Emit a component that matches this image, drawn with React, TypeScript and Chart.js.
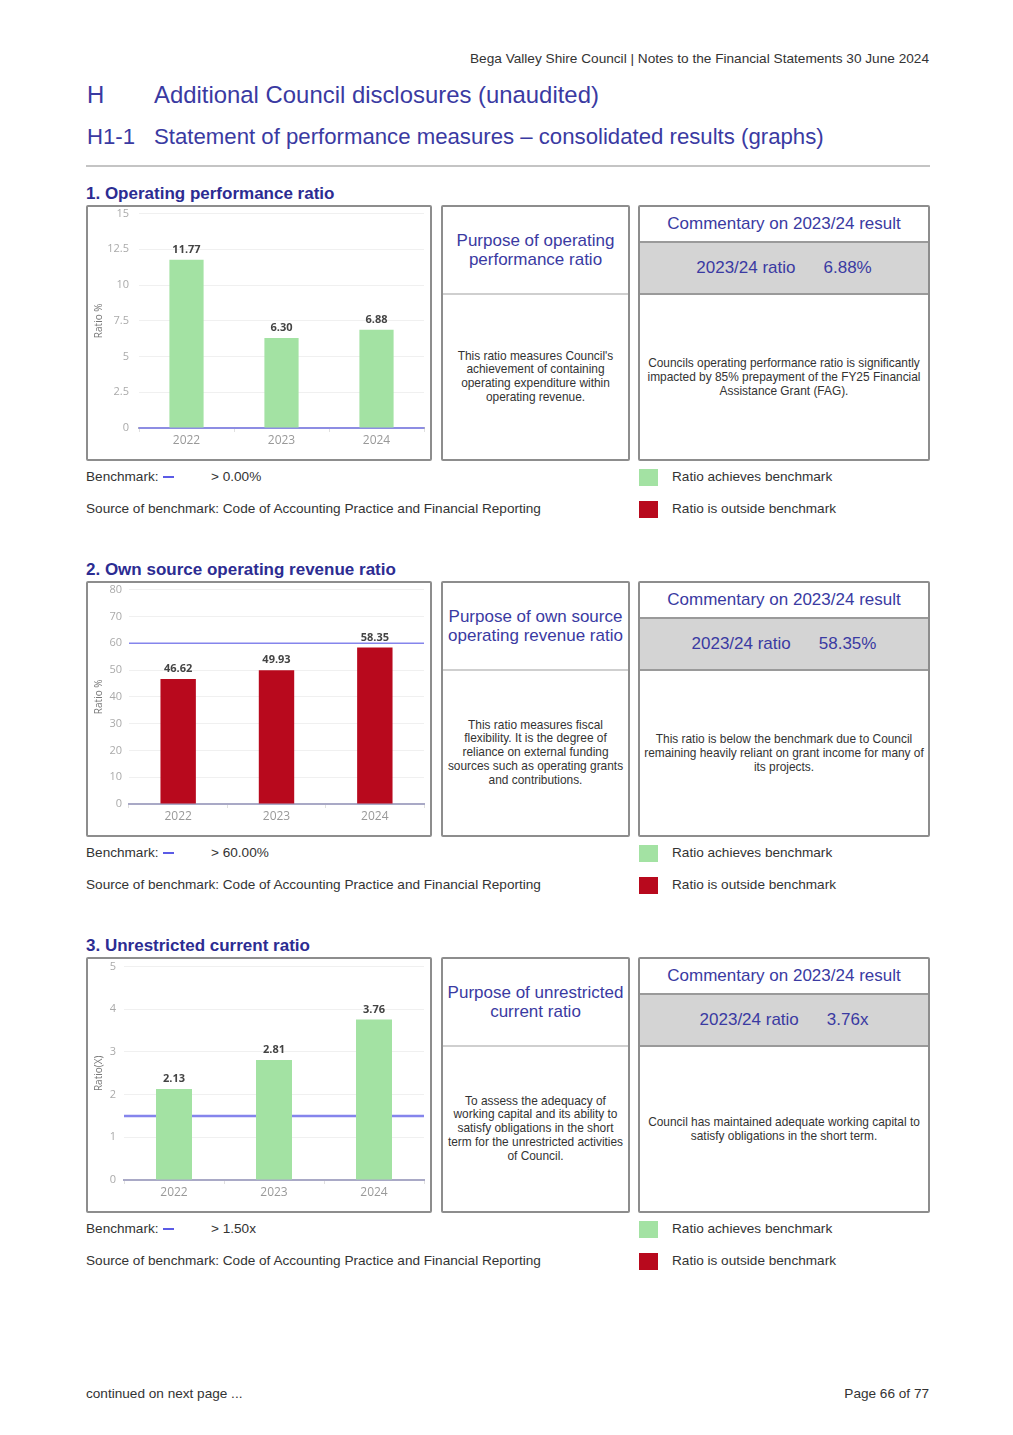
import React, { useEffect, useRef } from 'react';
import { Chart, registerables } from 'chart.js';

Chart.register(...registerables);

// ---------- data ----------
const years = ['2022', '2023', '2024'];

const operatingValues = [11.77, 6.3, 6.88];
const operatingBenchmark = 0;
const operatingTickMax = 15;
const operatingTickStep = 2.5;

const ownSourceValues = [46.62, 49.93, 58.35];
const ownSourceBenchmark = 60;
const ownSourceTickMax = 80;
const ownSourceTickStep = 10;

const unrestrictedValues = [2.13, 2.81, 3.76];
const unrestrictedBenchmark = 1.5;
const unrestrictedTickMax = 5;
const unrestrictedTickStep = 1;

// ---------- styles ----------
const GREEN = '#a3e2a3';
const RED = '#b8091d';
const BLUE_TEXT = '#3a3aa2';
const TITLE_BLUE = '#2c2c92';
const BENCH_LINE = '#8585ec';
const PAGE_FONT = '"Liberation Sans", Arial, sans-serif';
const CHART_FONT = '"Open Sans", "DejaVu Sans", sans-serif';

const overlayPlugin = {
  id: 'overlay',
  beforeDatasetsDraw(chart: any, _args: any, opts: any) {
    const { ctx, chartArea, scales } = chart;
    const yb = scales.y.getPixelForValue(opts.benchmark);
    ctx.save();
    ctx.strokeStyle = opts.lineColor;
    ctx.lineWidth = opts.lineWidth;
    ctx.beginPath();
    ctx.moveTo(chartArea.left, yb);
    ctx.lineTo(chartArea.right, yb);
    ctx.stroke();
    ctx.restore();
  },
  afterDatasetsDraw(chart: any) {
    const { ctx } = chart;
    const meta = chart.getDatasetMeta(0);
    const data = chart.data.datasets[0].data;
    ctx.save();
    ctx.fillStyle = '#444';
    ctx.font = `bold 11px ${CHART_FONT}`;
    ctx.textAlign = 'center';
    ctx.textBaseline = 'middle';
    meta.data.forEach((bar: any, i: number) => {
      ctx.fillText(Number(data[i]).toFixed(2), bar.x, bar.y - 10);
    });
    ctx.restore();
  },
};

type ChartProps = {
  values: number[];
  benchmark: number;
  yMax: number;
  yStep: number;
  yTitle: string;
  axisWidth: number;
  tickPad: number;
  lineWidth: number;
  lift: number;
};

function RatioChart({ values, benchmark, yMax, yStep, yTitle, axisWidth, tickPad, lineWidth, lift }: ChartProps) {
  const ref = useRef<HTMLCanvasElement>(null);
  useEffect(() => {
    const colors = values.map((v) => (v >= benchmark ? GREEN : RED));
    const chart = new Chart(ref.current as HTMLCanvasElement, {
      type: 'bar',
      data: {
        labels: years,
        datasets: [
          {
            data: values,
            backgroundColor: colors,
            borderWidth: 0,
            barPercentage: 0.36,
            categoryPercentage: 1,
          },
        ],
      },
      options: {
        responsive: false,
        animation: false,
        devicePixelRatio: 1,
        layout: { padding: { top: 0, right: 6, bottom: 6, left: 0 } },
        plugins: {
          legend: { display: false },
          tooltip: { enabled: false },
          overlay: { benchmark, lineWidth, lineColor: BENCH_LINE },
        } as any,
        scales: {
          x: {
            grid: { drawOnChartArea: false, drawTicks: true, tickLength: 4, color: '#e0e0e0' },
            border: { color: '#a9a9c6', width: 2 },
            ticks: { color: '#999', font: { family: CHART_FONT, size: 12 }, padding: 1 },
            afterFit: (s: any) => {
              s.height = 25;
            },
          },
          y: {
            min: 0,
            max: yMax,
            ticks: { stepSize: yStep, color: '#aaa', font: { family: CHART_FONT, size: 11 }, padding: tickPad },
            grid: { color: '#f0f0f0', drawTicks: false },
            border: { display: false },
            title: {
              display: true,
              text: yTitle,
              color: '#777',
              font: { family: CHART_FONT, size: 10 },
              padding: { top: 5, bottom: 0 },
            },
            afterFit: (s: any) => {
              s.width = axisWidth;
            },
          },
        },
      } as any,
      plugins: [overlayPlugin],
    });
    return () => chart.destroy();
  }, []);
  return (
    <div style={{ position: 'relative', width: 342, height: 252, overflow: 'hidden' }}>
      <canvas
        ref={ref}
        width={342}
        height={252 + lift}
        style={{ display: 'block', position: 'absolute', left: 0, top: -lift }}
      />
    </div>
  );
}

const boxStyle: React.CSSProperties = {
  position: 'absolute',
  boxSizing: 'border-box',
  border: '2px solid #8d8d8d',
  borderRadius: 2,
  background: '#fff',
};

function Lines({ lines }: { lines: string[] }) {
  return (
    <>
      {lines.map((l, i) => (
        <div key={i}>{l}</div>
      ))}
    </>
  );
}

type SectionProps = {
  top: number;
  title: string;
  chart: React.ReactNode;
  purposeTitle: string[];
  purposeBody: string[];
  ratioLabel: string;
  ratioValue: string;
  commentBody: string[];
  benchmarkText: string;
};

function Section({ top, title, chart, purposeTitle, purposeBody, ratioLabel, ratioValue, commentBody, benchmarkText }: SectionProps) {
  const o = top - 194;
  const small: React.CSSProperties = { position: 'absolute', fontSize: 13.6, color: '#333', lineHeight: '16px', whiteSpace: 'nowrap' };
  return (
    <>
      <div
        style={{
          position: 'absolute',
          left: 86,
          top: o + 184,
          fontSize: 17,
          fontWeight: 'bold',
          color: TITLE_BLUE,
          lineHeight: '20px',
          whiteSpace: 'nowrap',
        }}
      >
        {title}
      </div>
      <div style={{ ...boxStyle, left: 86, top: o + 205, width: 346, height: 256 }}>{chart}</div>
      <div style={{ ...boxStyle, left: 441, top: o + 205, width: 189, height: 256 }}>
        <div
          style={{
            height: 86,
            borderBottom: '2px solid #cfcfcf',
            display: 'flex',
            flexDirection: 'column',
            justifyContent: 'center',
            alignItems: 'center',
            textAlign: 'center',
            fontSize: 17,
            lineHeight: '19px',
            color: BLUE_TEXT,
            whiteSpace: 'nowrap',
          }}
        >
          <Lines lines={purposeTitle} />
        </div>
        <div
          style={{
            height: 164,
            display: 'flex',
            flexDirection: 'column',
            justifyContent: 'center',
            alignItems: 'center',
            textAlign: 'center',
            fontSize: 11.9,
            lineHeight: '13.7px',
            color: '#333',
            whiteSpace: 'nowrap',
          }}
        >
          <Lines lines={purposeBody} />
        </div>
      </div>
      <div style={{ ...boxStyle, left: 638, top: o + 205, width: 292, height: 256 }}>
        <div
          style={{
            height: 34,
            borderBottom: '2px solid #9a9a9a',
            display: 'flex',
            justifyContent: 'center',
            alignItems: 'center',
            fontSize: 17,
            color: BLUE_TEXT,
            whiteSpace: 'nowrap',
          }}
        >
          Commentary on 2023/24 result
        </div>
        <div
          style={{
            height: 50,
            background: '#d4d4d4',
            borderBottom: '2px solid #9a9a9a',
            display: 'flex',
            justifyContent: 'center',
            alignItems: 'center',
            fontSize: 17,
            color: BLUE_TEXT,
            whiteSpace: 'nowrap',
          }}
        >
          <span>{ratioLabel}</span>
          <span style={{ marginLeft: 28 }}>{ratioValue}</span>
        </div>
        <div
          style={{
            height: 166,
            display: 'flex',
            flexDirection: 'column',
            justifyContent: 'center',
            alignItems: 'center',
            textAlign: 'center',
            fontSize: 11.9,
            lineHeight: '13.7px',
            color: '#333',
            whiteSpace: 'nowrap',
          }}
        >
          <Lines lines={commentBody} />
        </div>
      </div>
      {/* benchmark row */}
      <div style={{ ...small, left: 86, top: o + 469 }}>Benchmark:</div>
      <div style={{ position: 'absolute', left: 163, top: o + 476, width: 11, height: 2, background: '#5b5be6' }} />
      <div style={{ ...small, left: 211, top: o + 469 }}>{benchmarkText}</div>
      <div style={{ position: 'absolute', left: 639, top: o + 469, width: 19, height: 17, background: GREEN }} />
      <div style={{ ...small, left: 672, top: o + 469 }}>Ratio achieves benchmark</div>
      <div style={{ ...small, left: 86, top: o + 501 }}>Source of benchmark: Code of Accounting Practice and Financial Reporting</div>
      <div style={{ position: 'absolute', left: 639, top: o + 501, width: 19, height: 17, background: RED }} />
      <div style={{ ...small, left: 672, top: o + 501 }}>Ratio is outside benchmark</div>
    </>
  );
}

export default function App() {
  return (
    <div
      style={{
        position: 'absolute',
        left: 0,
        top: 0,
        width: 1013,
        height: 1435,
        background: '#fff',
        fontFamily: PAGE_FONT,
        overflow: 'hidden',
      }}
    >
      <div
        style={{
          position: 'absolute',
          right: 1013 - 929,
          top: 51,
          fontSize: 13.65,
          lineHeight: '16px',
          color: '#333',
          whiteSpace: 'nowrap',
        }}
      >
        Bega Valley Shire Council | Notes to the Financial Statements 30 June 2024
      </div>
      <div style={{ position: 'absolute', left: 87, top: 81, fontSize: 23.9, lineHeight: '28px', color: BLUE_TEXT }}>H</div>
      <div style={{ position: 'absolute', left: 154, top: 81, fontSize: 23.9, lineHeight: '28px', color: BLUE_TEXT, whiteSpace: 'nowrap' }}>
        Additional Council disclosures (unaudited)
      </div>
      <div style={{ position: 'absolute', left: 87, top: 123, fontSize: 22.2, lineHeight: '28px', color: BLUE_TEXT }}>H1-1</div>
      <div style={{ position: 'absolute', left: 154, top: 123, fontSize: 22.2, lineHeight: '28px', color: BLUE_TEXT, whiteSpace: 'nowrap' }}>
        Statement of performance measures – consolidated results (graphs)
      </div>
      <div style={{ position: 'absolute', left: 86, top: 165, width: 844, height: 2, background: '#c4c4c4' }} />

      <Section
        top={194}
        title="1. Operating performance ratio"
        chart={
          <RatioChart
            values={operatingValues}
            benchmark={operatingBenchmark}
            yMax={operatingTickMax}
            yStep={operatingTickStep}
            yTitle="Ratio %"
            axisWidth={51}
            tickPad={10}
            lineWidth={1.5}
            lift={10}
          />
        }
        purposeTitle={['Purpose of operating', 'performance ratio']}
        purposeBody={["This ratio measures Council's", 'achievement of containing', 'operating expenditure within', 'operating revenue.']}
        ratioLabel="2023/24 ratio"
        ratioValue="6.88%"
        commentBody={[
          'Councils operating performance ratio is significantly',
          'impacted by 85% prepayment of the FY25 Financial',
          'Assistance Grant (FAG).',
        ]}
        benchmarkText="> 0.00%"
      />
      <Section
        top={570}
        title="2. Own source operating revenue ratio"
        chart={
          <RatioChart
            values={ownSourceValues}
            benchmark={ownSourceBenchmark}
            yMax={ownSourceTickMax}
            yStep={ownSourceTickStep}
            yTitle="Ratio %"
            axisWidth={41}
            tickPad={7}
            lineWidth={1.5}
            lift={7}
          />
        }
        purposeTitle={['Purpose of own source', 'operating revenue ratio']}
        purposeBody={[
          'This ratio measures fiscal',
          'flexibility. It is the degree of',
          'reliance on external funding',
          'sources such as operating grants',
          'and contributions.',
        ]}
        ratioLabel="2023/24 ratio"
        ratioValue="58.35%"
        commentBody={[
          'This ratio is below the benchmark due to Council',
          'remaining heavily reliant on grant income for many of',
          'its projects.',
        ]}
        benchmarkText="> 60.00%"
      />
      <Section
        top={946}
        title="3. Unrestricted current ratio"
        chart={
          <RatioChart
            values={unrestrictedValues}
            benchmark={unrestrictedBenchmark}
            yMax={unrestrictedTickMax}
            yStep={unrestrictedTickStep}
            yTitle="Ratio(X)"
            axisWidth={36}
            tickPad={8}
            lineWidth={2.5}
            lift={7}
          />
        }
        purposeTitle={['Purpose of unrestricted', 'current ratio']}
        purposeBody={[
          'To assess the adequacy of',
          'working capital and its ability to',
          'satisfy obligations in the short',
          'term for the unrestricted activities',
          'of Council.',
        ]}
        ratioLabel="2023/24 ratio"
        ratioValue="3.76x"
        commentBody={['Council has maintained adequate working capital to', 'satisfy obligations in the short term.']}
        benchmarkText="> 1.50x"
      />

      <div style={{ position: 'absolute', left: 86, top: 1386, fontSize: 13.6, lineHeight: '16px', color: '#333' }}>continued on next page ...</div>
      <div style={{ position: 'absolute', right: 1013 - 929, top: 1386, fontSize: 13.6, lineHeight: '16px', color: '#333' }}>Page 66 of 77</div>
    </div>
  );
}
